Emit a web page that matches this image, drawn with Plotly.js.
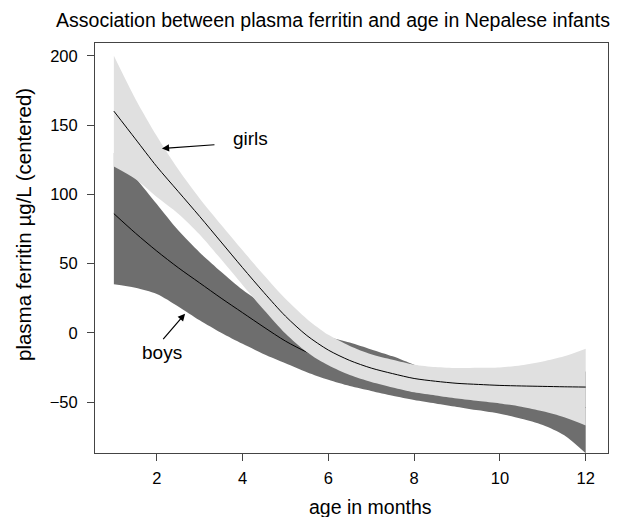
<!DOCTYPE html>
<html>
<head>
<meta charset="utf-8">
<script src="https://cdn.plot.ly/plotly-3.0.1.min.js"></script>
<style>html,body{margin:0;padding:0;background:#fff;}#chart{width:618px;height:517px;}</style>
</head>
<body>
<div id="chart"></div>
<script>
// age in months
const ageMonths = [1,1.5,2,2.5,3,3.5,4,4.5,5,5.5,6,6.5,7,7.5,8,8.5,9,9.5,10,10.5,11,11.5,12];

// girls: fitted curve and confidence band
const girlsMean  = [160,140,120,102,84,65.5,47,29,12,-2,-12.5,-20,-25.5,-29.5,-33,-35,-36.5,-37.3,-38,-38.4,-38.7,-39,-39.2];
const girlsUpper = [200,169,142,118,97,78,59.5,41.5,24.5,10,-1.5,-9.5,-15.5,-19.5,-23,-24.7,-25.5,-25.3,-25,-23.4,-20.7,-17,-11.5];
const girlsLower = [120,111,98,86,71,53,34.5,16.5,-0.5,-14,-23.5,-30.5,-35.5,-39.5,-43,-45.3,-47.5,-49.3,-51,-53.4,-56.7,-61,-66.9];

// boys: fitted curve and confidence band
const boysMean  = [86,72,59,47,36,25,14.5,4,-6,-14,-20,-25,-29,-32,-35,-37,-39,-41,-43,-45.5,-48,-51,-54];
const boysUpper = [130,112,93,74,58,44,31,20,9,2,-3,-7,-12,-17,-23,-28,-31,-32,-32,-31.5,-31,-30,-28];
const boysLower = [35,32.5,28,19,9,0,-8,-15.5,-22,-28.5,-34,-38.5,-42,-45.5,-48.5,-51,-53.5,-56,-58.5,-62,-66.5,-74,-87];

const xTicks = [2,4,6,8,10,12];
const yTicks = [-50,0,50,100,150,200];

const FONT = 'Liberation Sans, Arial, Helvetica, sans-serif';
const DARK = '#6e6e6e';
const LIGHT = '#e0e0e0';
const SM = 0.8;

const traces = [
  {x: ageMonths, y: boysLower, mode: 'lines', line: {width: 0, shape: 'spline', smoothing: SM}, hoverinfo: 'skip', showlegend: false},
  {x: ageMonths, y: boysUpper, mode: 'lines', fill: 'tonexty', fillcolor: DARK, line: {width: 0, shape: 'spline', smoothing: SM}, name: 'boys band', showlegend: false},
  {x: ageMonths, y: boysMean, mode: 'lines', line: {color: '#000', width: 1, shape: 'spline', smoothing: SM}, name: 'boys', showlegend: false},
  {x: ageMonths, y: girlsLower, mode: 'lines', line: {width: 0, shape: 'spline', smoothing: SM}, hoverinfo: 'skip', showlegend: false},
  {x: ageMonths, y: girlsUpper, mode: 'lines', fill: 'tonexty', fillcolor: LIGHT, line: {width: 0, shape: 'spline', smoothing: SM}, name: 'girls band', showlegend: false},
  {x: ageMonths, y: girlsMean, mode: 'lines', line: {color: '#000', width: 1, shape: 'spline', smoothing: SM}, name: 'girls', showlegend: false}
];

const axisCommon = {
  showline: true, mirror: true, linecolor: '#444', linewidth: 1,
  ticks: 'outside', ticklen: 7, tickwidth: 1, tickcolor: '#444',
  showgrid: false, zeroline: false,
  tickfont: {family: FONT, size: 16.5, color: '#000'}
};

const layout = {
  width: 618, height: 517,
  margin: {l: 95, r: 10, t: 43, b: 64},
  paper_bgcolor: '#fff', plot_bgcolor: '#fff',
  font: {family: FONT, color: '#000'},
  title: {text: 'Association between plasma ferritin and age in Nepalese infants',
          x: 333/618, xanchor: 'center', y: 1 - 20/517, yanchor: 'middle',
          font: {family: FONT, size: 19.5, color: '#000'}},
  xaxis: Object.assign({}, axisCommon, {range: [0.56, 12.52], tickvals: xTicks, ticktext: xTicks.map(String), ticklabelstandoff: 3}),
  yaxis: Object.assign({}, axisCommon, {range: [-86.8, 209.2], tickvals: yTicks, ticktext: yTicks.map(v => v < 0 ? '\u2212' + Math.abs(v) : String(v)), ticklabelstandoff: 6}),
  annotations: [
    {text: 'age in months', xref: 'paper', yref: 'paper', x: (370-95)/513, y: -(507-453)/410, xanchor: 'center', yanchor: 'middle', showarrow: false, font: {family: FONT, size: 19.5, color: '#000'}},
    {text: 'plasma ferritin \u00b5g/L (centered)', xref: 'paper', yref: 'paper', x: -(95-24)/513, y: (453-225)/410, xanchor: 'center', yanchor: 'middle', textangle: -90, showarrow: false, font: {family: FONT, size: 20.5, color: '#000'}},
    {text: 'girls', x: 4.19, y: 140, xref: 'x', yref: 'y', showarrow: false, font: {family: FONT, size: 19, color: '#000'}},
    {text: 'boys', x: 2.12, y: -14.2, xref: 'x', yref: 'y', showarrow: false, font: {family: FONT, size: 19, color: '#000'}},
    {text: '', x: 2.12, y: 133.1, xref: 'x', yref: 'y', ax: 3.38, ay: 135.8, axref: 'x', ayref: 'y', showarrow: true, arrowhead: 2, arrowsize: 1.2, arrowwidth: 1.2, arrowcolor: '#000', standoff: 0},
    {text: '', x: 2.66, y: 13.7, xref: 'x', yref: 'y', ax: 2.12, ay: -5.6, axref: 'x', ayref: 'y', showarrow: true, arrowhead: 2, arrowsize: 1.2, arrowwidth: 1.2, arrowcolor: '#000', standoff: 0}
  ]
};

Plotly.newPlot('chart', traces, layout, {displayModeBar: false, staticPlot: true});
</script>
</body>
</html>
